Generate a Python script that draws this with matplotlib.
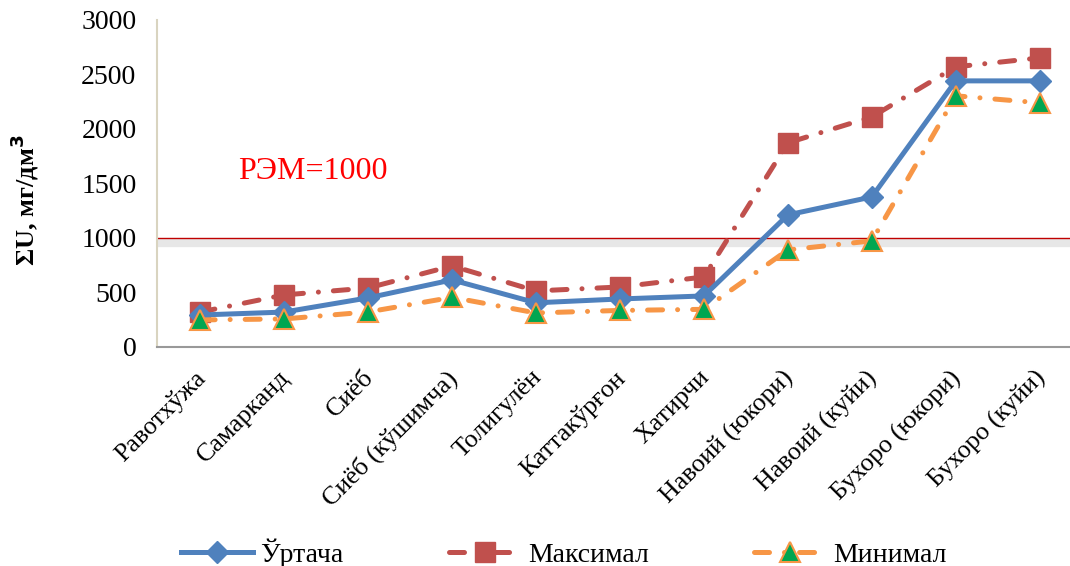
import matplotlib.pyplot as plt
import matplotlib.transforms as mtransforms
import numpy as np

plt.rcParams['font.family'] = ['Liberation Serif', 'DejaVu Serif']

# данные
stations = ['Равотхўжа', 'Самарканд', 'Сиёб', 'Сиёб (кўшимча)', 'Толигулён',
            'Каттакўрғон', 'Хатирчи', 'Навоий (юкори)', 'Навоий (куйи)',
            'Бухоро (юкори)', 'Бухоро (куйи)']
urtacha = [293, 320, 450, 615, 405, 440, 468, 1211, 1376, 2440, 2440]
maksimal = [320, 477, 541, 743, 514, 550, 642, 1872, 2110, 2569, 2651]
minimal = [248, 257, 321, 455, 312, 335, 345, 890, 973, 2303, 2239]
rem = 1000

x = np.arange(len(stations))

fig = plt.figure(figsize=(10.7, 5.66), dpi=100)
ax = fig.add_axes([0.147, 0.387, 0.853, 0.578])

ax.axhline(rem - 45, color='#bbbbbb', linewidth=6, alpha=0.35, zorder=1)
ax.axhline(rem, color='#c00000', linewidth=1.0, zorder=2)

dd = (3, 3, 0.01, 3)
ax.plot(x, urtacha, color='#4f81bd', linewidth=3.6, marker='D', markersize=11,
        label='Ўртача', zorder=5)
ax.plot(x, maksimal, color='#c0504d', linewidth=3.6, dashes=dd,
        dash_capstyle='round', marker='s', markersize=14, label='Максимал', zorder=4)
ax.plot(x, minimal, color='#f79646', linewidth=3.6, dashes=dd,
        dash_capstyle='round', marker='^', markersize=14, markerfacecolor='#00a651',
        markeredgecolor='#f79646', markeredgewidth=1.5, label='Минимал', zorder=6)

ax.text(0.45, 1605, 'РЭМ=1000', color='#ff0000', fontsize=23, va='center')

ax.set_xlim(-0.51, 10.36)
ax.set_ylim(0, 3000)
ax.set_yticks(np.arange(0, 3001, 500))
ax.set_xticks(x)
ax.set_xticklabels(stations, rotation=45, ha='right', va='top',
                   rotation_mode='anchor', fontsize=18.7)
ax.tick_params(axis='y', labelsize=20, length=0, pad=15)
ax.tick_params(axis='x', length=0, pad=14)

# небольшой сдвиг подписей влево
off = mtransforms.ScaledTranslation(-6 / 100, 0, fig.dpi_scale_trans)
for lbl in ax.get_xticklabels():
    lbl.set_transform(lbl.get_transform() + off)

for s in ['top', 'right']:
    ax.spines[s].set_visible(False)
ax.spines['left'].set_color('#d9d4c0')
ax.spines['left'].set_linewidth(1.5)
ax.spines['bottom'].set_color('#999999')
ax.spines['bottom'].set_linewidth(1.5)

ax.set_ylabel('ΣU, мг/дм$^\\mathbf{3}$', fontsize=19, fontweight='bold')
ax.yaxis.set_label_coords(-0.127, 0.45)

fig.legend(loc='lower center', bbox_to_anchor=(0.527, -0.047), ncol=3, frameon=False,
           fontsize=20, handlelength=2.6, columnspacing=3.8, handletextpad=0.25)

fig.savefig('out.png', dpi=100)
